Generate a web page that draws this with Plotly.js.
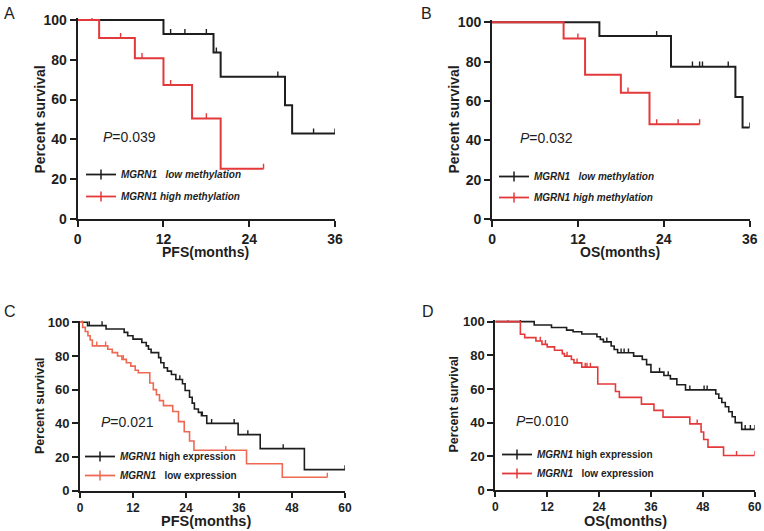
<!DOCTYPE html>
<html>
<head>
<meta charset="utf-8">
<script src="https://cdn.plot.ly/plotly-3.0.1.min.js"></script>
<style>html,body{margin:0;padding:0;background:#fff}#chart{width:764px;height:531px}</style>
</head>
<body>
<div id="chart"></div>
<script>
// ---------- Panel A: PFS by MGRN1 methylation ----------
const A_low_t  = [0, 12, 19, 20, 29, 30, 36];
const A_low_s  = [100, 92.9, 83.6, 71.5, 57.2, 42.9, 42.9];
const A_low_c  = [13, 15, 18, 19.4, 28, 33, 36];
const A_high_t = [0, 3, 8, 12, 16, 20, 26];
const A_high_s = [100, 90.9, 80.8, 67.3, 50.5, 25.2, 25.2];
const A_high_c = [2, 6, 9, 13, 18, 26];

// ---------- Panel B: OS by MGRN1 methylation ----------
const B_low_t  = [0, 15, 25, 34, 35, 36];
const B_low_s  = [100, 93, 77.4, 62, 46.5, 46.5];
const B_low_c  = [23, 28, 29, 29.4, 33, 36];
const B_high_t = [0, 10, 13, 18, 22, 29];
const B_high_s = [100, 91.7, 73.3, 64.2, 48.1, 48.1];
const B_high_c = [12, 19, 23, 26, 29];

// ---------- Panel C: PFS by MGRN1 expression ----------
const C_high_t = [0, 1.7, 5.9, 10, 10.8, 12, 14, 15, 15.5, 16.1, 17.8, 18.3, 19, 19.8, 20.7, 21.7, 23.2, 23.8, 24.8, 25.4, 25.9, 26.8, 27.5, 28.7, 35.8, 40.8, 50.8, 60];
const C_high_s = [100, 98, 96, 94, 92, 90, 88, 86, 84, 82, 79, 76, 73, 71, 69, 66, 63.5, 59.5, 55.5, 52, 48.5, 46.5, 44.5, 40, 33.3, 25, 12.5, 12.5];
const C_high_c = [2.1, 5, 22.6, 27.7, 29.8, 34.9, 38, 46, 60];
const C_low_t  = [0, 0.6, 1.2, 1.8, 2.3, 2.8, 6.3, 7.3, 8.5, 9.5, 10.5, 11.5, 12.5, 13.2, 15.8, 16.6, 17.3, 18, 18.9, 21, 22.3, 23.6, 24.8, 25.8, 37.7, 45.8, 56];
const C_low_s  = [100, 97, 94.5, 92, 89.5, 86, 84, 82, 80, 78, 76, 74, 71.5, 70, 64, 60, 57, 53.5, 50.5, 47, 41, 35, 29.5, 24, 16, 8, 8];
const C_low_c  = [0.5, 3.8, 5.8, 9.8, 33, 56];

// ---------- Panel D: OS by MGRN1 expression ----------
const D_high_t = [0, 9, 13, 16.5, 18, 20, 23.5, 24.3, 25, 26.8, 27.5, 28.3, 32, 34, 35, 36, 39, 40.5, 42, 44, 51, 51.7, 52.4, 53.2, 54, 54.8, 55.5, 57, 60];
const D_high_s = [100, 98, 96.5, 95, 94, 92.7, 91, 89.5, 88, 85.5, 83.5, 81.5, 79.5, 77.5, 74.5, 70, 68, 66, 62.5, 59.5, 57, 54.5, 52, 49.5, 46.5, 43.5, 40, 36, 36];
const D_high_c = [5.8, 25.8, 29.1, 29.8, 30.8, 38, 40, 45, 48.3, 49, 57.8, 59, 60];
const D_low_t  = [0, 5.8, 6.8, 9.4, 10.8, 12, 13.7, 15.5, 16, 17.6, 18.2, 20, 23.7, 27.8, 28.7, 33.8, 36.7, 38.8, 45, 47.6, 48.2, 49.2, 52.8, 60];
const D_low_s  = [100, 92.5, 90.5, 88.5, 86.5, 85, 83, 81, 79.5, 77.5, 75.5, 73, 63, 58.5, 55, 51, 47.3, 43.3, 39.3, 34.5, 30, 25.5, 20.5, 20.5];
const D_low_c  = [2.9, 10.4, 11.6, 16.6, 18.9, 20.8, 21.2, 22, 46.7, 55.8, 60];

// ---------- Labels ----------
const panelLetters = ['A', 'B', 'C', 'D'];
const xTitles = ['PFS(months)', 'OS(months)', 'PFS(months)', 'OS(months)'];
const yTitle = 'Percent survival';
const pTexts = ['0.039', '0.032', '0.021', '0.010'];
const legA = ['<b><i>MGRN1\u00a0\u00a0 low methylation</i></b>', '<b><i>MGRN1 high methylation</i></b>'];
const legC = ['<b><i>MGRN1</i> high expression</b>', '<b><i>MGRN1</i>\u00a0\u00a0 low expression</b>'];

const BLACK = '#1e1e1e', RED = '#e4393b', SALMON = '#ee6852';
const FONT = 'Liberation Sans, Arial, Helvetica, sans-serif';

function survAt(ts, ss, t) {
  let v = ss[0];
  for (let i = 0; i < ts.length; i++) if (ts[i] <= t) v = ss[i];
  return v;
}

const traces = [];
function addCurve(ax, ts, ss, cens, color, name, legendId, lw) {
  const xa = 'x' + ax, ya = 'y' + ax;
  traces.push({x: ts, y: ss, xaxis: xa, yaxis: ya, mode: 'lines', line: {shape: 'hv', color: color, width: lw},
               showlegend: false, hoverinfo: 'skip'});
  traces.push({x: cens, y: cens.map(t => survAt(ts, ss, t)), xaxis: xa, yaxis: ya, mode: 'markers',
               marker: {size: 1, opacity: 0}, cliponaxis: false, showlegend: false, hoverinfo: 'skip',
               error_y: {type: 'constant', symmetric: false, value: 2.6, valueminus: 0, width: 0, thickness: 1.4, color: color}});
  traces.push({x: [null], y: [null], xaxis: xa, yaxis: ya, mode: 'lines+markers', name: name, legend: legendId,
               legendgroup: legendId + name,
               line: {color: color, width: 1.8}, marker: {symbol: 'line-ns', size: 7, line: {color: color, width: 1.5}}});
}
addCurve('', A_low_t, A_low_s, A_low_c, BLACK, legA[0], 'legend', 2);
addCurve('', A_high_t, A_high_s, A_high_c, RED, legA[1], 'legend', 2);
addCurve('2', B_low_t, B_low_s, B_low_c, BLACK, legA[0], 'legend2', 2);
addCurve('2', B_high_t, B_high_s, B_high_c, RED, legA[1], 'legend2', 2);
addCurve('3', C_high_t, C_high_s, C_high_c, BLACK, legC[0], 'legend3', 1.6);
addCurve('3', C_low_t, C_low_s, C_low_c, SALMON, legC[1], 'legend3', 1.6);
addCurve('4', D_high_t, D_high_s, D_high_c, BLACK, legC[0], 'legend4', 1.6);
addCurve('4', D_low_t, D_low_s, D_low_c, RED, legC[1], 'legend4', 1.6);

function xAxis(domain, maxv, anchor, fs, tl) {
  return {domain: domain, range: [0, maxv], anchor: anchor, tickvals: maxv === 36 ? [0, 12, 24, 36] : [0, 12, 24, 36, 48, 60],
          showline: true, linecolor: BLACK, linewidth: 2, ticks: 'outside', ticklen: tl, tickwidth: 2, tickcolor: BLACK,
          showgrid: false, zeroline: false, tickfont: {family: FONT, size: fs, color: BLACK, weight: 'bold'}};
}
function yAxis(domain, anchor, fs) {
  return {domain: domain, range: [0, 101], anchor: anchor, tickvals: [0, 20, 40, 60, 80, 100],
          showline: true, linecolor: BLACK, linewidth: 2, ticks: 'outside', ticklen: 6, tickwidth: 2, tickcolor: BLACK,
          showgrid: false, zeroline: false, tickfont: {family: FONT, size: fs, color: BLACK, weight: 'bold'}};
}
function legendAt(x, y, gap) {
  return {x: x, y: y, xanchor: 'left', yanchor: 'top', bgcolor: 'rgba(0,0,0,0)', borderwidth: 0,
          font: {family: FONT, size: 10, color: BLACK}, traceorder: 'grouped', tracegroupgap: gap, itemclick: false};
}

const annotations = [];
const letterPos = [[2, 3], [419, 3], [2, 301], [420, 301]];
letterPos.forEach((p, i) => annotations.push({xref: 'paper', yref: 'paper', x: p[0] / 764, y: 1 - p[1] / 531,
  xanchor: 'left', yanchor: 'top', text: panelLetters[i], showarrow: false, font: {family: FONT, size: 16, color: BLACK}}));
const pPos = [['x', 'y', 3.3, 41], ['x2', 'y2', 3.6, 41], ['x3', 'y3', 4.3, 41], ['x4', 'y4', 4.4, 41]];
pPos.forEach((p, i) => annotations.push({xref: p[0], yref: p[1], x: p[2], y: p[3], xanchor: 'left', yanchor: 'middle',
  text: '<i>P</i>=' + pTexts[i], showarrow: false, font: {family: FONT, size: 14, color: BLACK}}));
// axis titles: [x centre, y centre, size]
const xTitlePos = [[206, 252, 14], [619.5, 252, 14], [206, 521, 14.5], [625, 521, 14.5]];
const yTitlePos = [[39, 119.5, 14], [453.5, 120, 14], [39.5, 405.5, 12.5], [453.5, 404, 12.5]];
xTitlePos.forEach((p, i) => annotations.push({xref: 'paper', yref: 'paper', x: p[0] / 764, y: 1 - p[1] / 531,
  xanchor: 'center', yanchor: 'middle', text: xTitles[i], showarrow: false,
  font: {family: FONT, size: p[2], color: BLACK, weight: 'bold'}}));
yTitlePos.forEach((p, i) => annotations.push({xref: 'paper', yref: 'paper', x: p[0] / 764, y: 1 - p[1] / 531,
  xanchor: 'center', yanchor: 'middle', text: yTitle, textangle: -90, showarrow: false,
  font: {family: FONT, size: p[2], color: BLACK, weight: 'bold'}}));

const layout = {
  width: 764, height: 531, margin: {l: 0, r: 0, t: 0, b: 0}, paper_bgcolor: '#fff', plot_bgcolor: '#fff',
  showlegend: true,
  xaxis:  xAxis([0.1017, 0.4385], 36, 'y', 14, 6),
  yaxis:  yAxis([0.5876, 0.9661], 'x', 14),
  xaxis2: xAxis([0.6440, 0.9813], 36, 'y2', 14, 6),
  yaxis2: yAxis([0.5876, 0.9618], 'x2', 14),
  xaxis3: xAxis([0.1047, 0.4516], 60, 'y3', 12, 5),
  yaxis3: yAxis([0.0759, 0.3962], 'x3', 13),
  xaxis4: xAxis([0.6483, 0.9878], 60, 'y4', 12, 5),
  yaxis4: yAxis([0.0772, 0.3974], 'x4', 13),
  legend:  legendAt(81 / 764, 1 - 160 / 531, 3),
  legend2: legendAt(494 / 764, 1 - 162 / 531, 2),
  legend3: legendAt(80 / 764, 1 - 442 / 531, 0),
  legend4: legendAt(497 / 764, 1 - 440 / 531, 0),
  annotations: annotations
};
Plotly.newPlot('chart', traces, layout, {staticPlot: true, displayModeBar: false});
</script>
</body>
</html>
